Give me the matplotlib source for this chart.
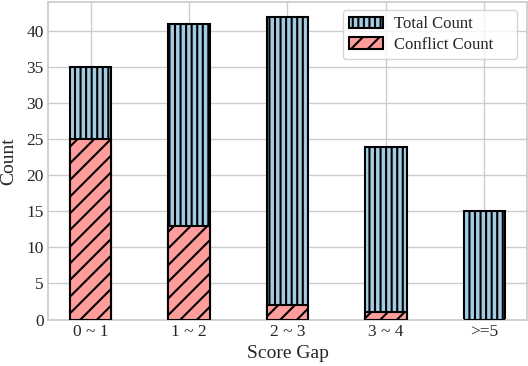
import matplotlib
matplotlib.use("Agg")
import matplotlib.pyplot as plt
import seaborn as sns
import numpy as np

categories = ["0 ~ 1", "1 ~ 2", "2 ~ 3", "3 ~ 4", ">=5"]
total_count = [35, 41, 42, 24, 15]
conflict_count = [25, 13, 2, 1, 0]

sns.set_theme(style="whitegrid")
plt.rcParams['font.family'] = ['Liberation Serif', 'DejaVu Serif']
plt.rcParams['hatch.linewidth'] = 1.5

fig, ax = plt.subplots(figsize=(5.28, 3.66), dpi=100)
x = np.arange(len(categories))
w = 0.42
ax.bar(x, total_count, width=w, color='#a3cce3', edgecolor='black', linewidth=1.5,
       hatch='|||', label='Total Count', zorder=2)
ax.bar(x, conflict_count, width=w, color='#ff9c9c', edgecolor='black', linewidth=1.5,
       hatch='//', label='Conflict Count', zorder=3)
ax.set_xticks(x)
ax.set_xticklabels(categories, fontsize=12.5)
ax.tick_params(axis='y', labelsize=12.5)
ax.tick_params(axis='both', length=0, pad=3)
ax.set_xlabel('Score Gap', fontsize=14)
ax.set_ylabel('Count', fontsize=14)
ax.yaxis.set_label_coords(-0.064, 0.5)
ax.xaxis.set_label_coords(0.5, -0.08)
ax.legend(loc='upper left', bbox_to_anchor=(0.615, 0.0, 0.364, 0.975),
          mode='expand', borderaxespad=0, fontsize=12, frameon=True,
          labelspacing=0.25, handletextpad=0.7)
ax.set_yticks(range(0, 45, 5))
fig.subplots_adjust(left=0.091, right=0.998, top=0.995, bottom=0.127)
fig.savefig('out.png', dpi=100)
